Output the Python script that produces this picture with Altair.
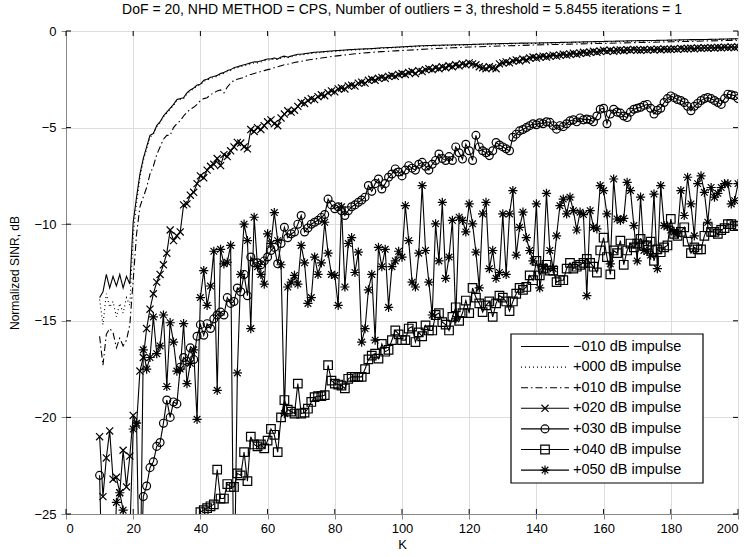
import altair as alt
import pandas as pd

FONT = "Liberation Sans"
TITLE = "DoF = 20, NHD METHOD = CPS, Number of outliers = 3, threshold = 5.8455 iterations = 1"
SERIES = ["\u2212010 dB impulse", "+000 dB impulse", "+010 dB impulse", "+020 dB impulse",
          "+030 dB impulse", "+040 dB impulse", "+050 dB impulse"]
XTICKS = [0, 20, 40, 60, 80, 100, 120, 140, 160, 180, 200]
YTICKS = [-25, -20, -15, -10, -5, 0]

# K grid of the three curves without markers
K_SMOOTH = list(range(10, 71)) + list(range(72, 101, 2)) + list(range(105, 201, 5))
# K grid of the four curves with markers
K_ALL = list(range(10, 201))

S_M010 = [
    -13.8, -13.5, -12.6, -13.3, -12.7, -13.2, -12.6, -13.3, -12.7, -13.1,
    -9.9, -8.6, -7.4, -6.6, -6.0, -5.4, -5.3, -4.9, -4.7, -4.4,
    -4.2, -4.0, -3.8, -3.55, -3.5, -3.45, -3.2, -3.05, -2.95, -2.8,
    -2.75, -2.55, -2.5, -2.4, -2.35, -2.3, -2.2, -2.15, -2.05, -2.0,
    -1.9, -1.85, -1.8, -1.75, -1.7, -1.65, -1.6, -1.6, -1.55, -1.5,
    -1.45, -1.45, -1.4, -1.45, -1.35, -1.3, -1.35, -1.3, -1.25, -1.2, -1.2,
    -1.15, -1.1, -1.08, -1.05, -1.02, -1.0, -0.97, -0.95, -0.93, -0.92, -0.9, -0.87, -0.86, -0.84, -0.82,
    -0.77, -0.74, -0.72, -0.7, -0.67, -0.65, -0.63, -0.62, -0.6, -0.58,
    -0.56, -0.54, -0.52, -0.5, -0.49, -0.47, -0.45, -0.44, -0.42, -0.4,
]
S_P000 = [
    -13.9, -15.2, -13.6, -14.3, -14.0, -14.8, -14.1, -14.6, -13.8, -14.2,
    -10.6, -8.9, -7.6, -6.7, -6.1, -5.5, -5.35, -4.95, -4.75, -4.45,
    -4.25, -4.05, -3.85, -3.6, -3.55, -3.5, -3.25, -3.1, -3.0, -2.85,
    -2.8, -2.6, -2.55, -2.45, -2.4, -2.35, -2.25, -2.2, -2.1, -2.05,
    -1.95, -1.9, -1.85, -1.8, -1.75, -1.7, -1.65, -1.65, -1.6, -1.55,
    -1.5, -1.5, -1.45, -1.48, -1.4, -1.35, -1.38, -1.34, -1.3, -1.25, -1.24,
    -1.19, -1.14, -1.11, -1.08, -1.05, -1.03, -1.0, -0.98, -0.96, -0.94, -0.92, -0.9, -0.88, -0.86, -0.85,
    -0.8, -0.76, -0.74, -0.72, -0.69, -0.67, -0.65, -0.64, -0.62, -0.6,
    -0.58, -0.56, -0.54, -0.52, -0.51, -0.49, -0.47, -0.46, -0.44, -0.42,
]
S_P010 = [
    -15.8, -17.3, -15.7, -15.4, -15.6, -16.4, -15.9, -16.3, -16.0, -15.2,
    -12.9, -10.5, -9.1, -8.6, -8.1, -7.4, -7.0, -6.4, -6.0, -5.6,
    -5.4, -5.4, -5.0, -4.8, -4.65, -4.4, -4.2, -4.05, -3.95, -3.8,
    -3.6, -3.5, -3.45, -3.3, -3.2, -3.1, -3.05, -3.2, -2.9, -2.7,
    -2.55, -2.5, -2.45, -2.4, -2.3, -2.25, -2.2, -2.15, -2.1, -2.05,
    -2.0, -1.97, -1.9, -1.85, -1.8, -1.75, -1.72, -1.68, -1.63, -1.6, -1.57,
    -1.5, -1.45, -1.4, -1.35, -1.3, -1.26, -1.22, -1.18, -1.15, -1.12, -1.09, -1.07, -1.05, -1.03, -1.01,
    -0.96, -0.91, -0.87, -0.83, -0.8, -0.77, -0.75, -0.72, -0.7, -0.68,
    -0.66, -0.64, -0.62, -0.6, -0.58, -0.56, -0.54, -0.52, -0.5, -0.48,
]
S_P020 = [
    -21.0, -24.1, -22.1, -20.7, -23.2, -23.1, -23.9, -21.7, -23.6, -22.0,
    -19.9, -20.4, -17.6, -16.9, -15.4, -14.4, -13.6, -13.0, -12.6, -12.1,
    -11.5, -10.3, -10.85, -10.6, -10.4, -9.0, -8.95, -8.5, -8.35, -7.9,
    -7.5, -7.6, -7.2, -7.0, -6.9, -6.6, -6.97, -6.4, -6.5, -6.2,
    -6.0, -5.77, -5.8, -6.0, -6.1, -5.1, -5.2, -5.0, -5.1, -4.9,
    -4.7, -4.6, -4.8, -4.9, -4.5, -4.3, -4.13, -4.2, -4.1, -3.9,
    -3.7, -3.75, -3.6, -3.5, -3.55, -3.4, -3.3, -3.35, -3.2, -3.1,
    -3.15, -3.0, -2.95, -3.0, -2.85, -2.8, -2.85, -2.7, -2.65, -2.7,
    -2.55, -2.5, -2.55, -2.45, -2.4, -2.45, -2.35, -2.3, -2.35, -2.25,
    -2.2, -2.25, -2.15, -2.1, -2.2, -2.05, -2.1, -2.0, -1.95, -2.0,
    -1.9, -1.95, -1.85, -1.9, -1.8, -1.85, -1.75, -1.8, -1.7, -1.75,
    -1.65, -1.7, -1.75, -1.85, -1.9, -1.95, -1.85, -1.9, -1.95, -1.7,
    -1.65, -1.6, -1.65, -1.55, -1.5, -1.55, -1.45, -1.5, -1.4, -1.35,
    -1.4, -1.35, -1.3, -1.35, -1.3, -1.25, -1.3, -1.25, -1.2, -1.25,
    -1.2, -1.15, -1.2, -1.15, -1.1, -1.15, -1.1, -1.05, -1.1, -1.05,
    -1.0, -1.05, -1.0, -1.05, -1.0, -0.98, -1.02, -0.97, -1.0, -0.95,
    -0.98, -1.0, -0.96, -0.99, -0.95, -0.98, -0.94, -0.97, -0.93, -0.96,
    -0.95, -0.92, -0.95, -0.9, -0.93, -0.91, -0.89, -0.92, -0.88, -0.9,
    -0.87, -0.89, -0.86, -0.88, -0.85, -0.87, -0.84, -0.86, -0.83, -0.85,
    -0.82,
]
S_P030 = [
    -23.0, -30, -30, -30, -30, -30, -30, -30, -30, -30,
    -30, -30, -30, -24.1, -23.55, -22.6, -22.3, -21.5, -21.3, -20.3,
    -19.1, -20.0, -19.2, -19.3, -17.4, -16.9, -17.1, -16.4, -17.0, -15.8,
    -15.2, -15.75, -15.15, -15.4, -14.9, -14.7, -14.55, -14.7, -13.8, -14.1,
    -14.0, -13.3, -13.5, -12.6, -13.7, -11.7, -12.0, -12.0, -12.1, -11.9,
    -11.7, -11.36, -11.2, -12.05, -11.0, -10.16, -10.7, -10.5, -10.4, -10.0,
    -9.55, -10.4, -10.2, -10.0, -9.9, -9.8, -9.65, -9.5, -8.7, -9.0,
    -9.2, -9.1, -9.3, -9.55, -9.3, -9.1, -9.0, -8.87, -8.75, -8.6,
    -8.0, -8.3, -7.9, -7.66, -8.18, -7.9, -7.57, -7.4, -7.14, -7.3,
    -7.5, -7.2, -6.97, -7.1, -7.2, -6.9, -6.8, -7.0, -7.2, -6.9,
    -6.7, -6.37, -6.6, -6.7, -6.5, -6.7, -6.0, -6.3, -6.63, -5.86,
    -6.2, -6.7, -5.4, -6.0, -6.2, -6.3, -6.45, -6.2, -5.77, -5.9,
    -6.0, -6.1, -6.2, -5.5, -5.34, -5.17, -5.1, -5.0, -4.9, -4.8,
    -4.85, -4.75, -4.8, -4.7, -4.73, -4.9, -5.08, -4.9, -4.95, -4.8,
    -4.65, -4.6, -4.7, -4.5, -4.6, -4.56, -4.6, -4.7, -4.4, -4.05,
    -4.0, -4.8, -4.3, -4.05, -4.2, -4.25, -4.4, -4.48, -4.2, -4.05,
    -4.0, -3.95, -3.85, -3.8, -4.0, -4.3, -4.1, -4.0, -3.7, -3.5,
    -3.36, -3.45, -3.55, -3.6, -3.7, -3.9, -4.13, -3.9, -3.75, -3.6,
    -3.5, -3.44, -3.5, -3.6, -3.7, -3.8, -3.5, -3.27, -3.3, -3.35,
    -3.5,
]
S_P040 = [
    -30, -30, -30, -30, -30, -30, -30, -30, -30, -30,
    -30, -30, -30, -30, -30, -30, -30, -30, -30, -30,
    -30, -30, -30, -30, -30, -30, -30, -30, -30, -30,
    -24.9, -24.8, -24.7, -24.6, -24.5, -22.7, -24.2, -24.2, -23.45, -23.6,
    -23.6, -22.9, -23.0, -21.8, -23.3, -21.0, -21.4, -21.5, -21.4, -21.6,
    -21.2, -20.6, -20.9, -21.8, -20.0, -19.1, -19.6, -19.7, -19.8, -18.25,
    -19.8, -19.75, -19.55, -19.2, -18.95, -18.9, -18.9, -18.85, -17.3, -18.1,
    -18.25, -18.3, -18.35, -18.5, -18.0, -17.9, -17.9, -17.9, -17.9, -17.5,
    -17.0, -16.8, -16.7, -16.96, -16.2, -16.6, -16.5, -16.0, -15.5, -15.7,
    -16.0, -16.0, -15.4, -15.3, -16.1, -15.6, -15.8, -15.24, -15.5, -15.5,
    -14.7, -14.6, -15.07, -15.2, -15.5, -14.8, -14.3, -15.0, -14.6, -13.95,
    -14.6, -13.3, -13.8, -14.1, -14.55, -14.2, -14.0, -14.8, -14.1, -13.7,
    -13.8, -14.0, -14.5, -14.0, -13.6, -13.3, -13.4, -13.25, -12.65, -12.9,
    -11.9, -12.65, -12.3, -12.1, -12.4, -12.4, -13.0, -12.9, -12.9, -12.3,
    -12.0, -12.3, -12.2, -12.1, -12.0, -11.8, -12.0, -12.2, -12.5, -11.36,
    -10.7, -11.7, -12.6, -11.36, -11.5, -10.85, -12.1, -11.36, -11.0, -11.2,
    -11.0, -10.76, -11.1, -11.1, -10.9, -11.9, -11.3, -11.45, -11.2, -11.1,
    -9.73, -10.5, -10.6, -10.4, -10.16, -10.9, -11.5, -11.2, -11.3, -11.3,
    -10.6, -10.16, -10.4, -10.4, -10.5, -10.3, -10.2, -10.0, -10.0, -10.1,
    -10.07,
]
S_P050 = [
    -30, -30, -30, -30, -30, -24.4, -23.9, -24.8, -27, -26,
    -20.6, -20.3, -30, -16.5, -17.5, -16.9, -14.8, -16.7, -16.3, -14.7,
    -18.4, -15.1, -16.1, -17.6, -17.5, -15.15, -18.25, -17.2, -16.5, -20.1,
    -13.8, -12.4, -14.2, -13.2, -11.4, -18.6, -11.3, -12.05, -11.97, -11.1,
    -30, -17.7, -12.6, -10.0, -10.85, -15.4, -9.64, -12.2, -12.6, -13.1,
    -10.5, -11.0, -9.4, -10.85, -12.1, -19.8, -13.25, -13.0, -12.65, -13.1,
    -11.1, -12.0, -14.1, -13.8, -11.7, -12.6, -12.0, -9.9, -11.5, -12.6,
    -12.65, -14.2, -9.1, -13.25, -11.0, -10.7, -12.5, -11.45, -16.1, -15.4,
    -13.4, -12.6, -16.0, -11.2, -12.2, -11.3, -14.3, -12.2, -11.9, -11.4,
    -11.7, -9.04, -10.85, -13.0, -13.25, -11.5, -8.0, -11.36, -13.0, -14.7,
    -9.98, -11.9, -8.87, -12.8, -11.7, -9.8, -14.9, -9.64, -9.8, -10.4,
    -8.95, -9.98, -11.45, -13.3, -9.47, -8.87, -12.3, -11.36, -12.8, -12.5,
    -9.47, -12.6, -9.47, -8.26, -11.6, -10.16, -9.38, -10.7, -11.36, -11.9,
    -8.95, -13.3, -12.2, -8.4, -11.36, -12.3, -10.6, -9.04, -8.7, -9.47,
    -8.6, -9.3, -10.3, -9.38, -9.5, -13.7, -9.3, -10.16, -10.24, -8.0,
    -8.26, -9.47, -12.05, -7.66, -9.73, -9.8, -9.7, -7.83, -8.26, -10.07,
    -11.9, -8.6, -11.36, -11.4, -11.6, -8.44, -12.3, -8.0, -10.07, -10.1,
    -10.3, -10.4, -10.5, -8.26, -9.55, -7.57, -8.95, -10.6, -7.9, -7.5,
    -8.35, -9.9, -8.1, -8.6, -8.4, -8.1, -7.9, -7.9, -8.95, -8.78,
    -7.9,
]

rows = []
for name, ks, vals in [
    (SERIES[0], K_SMOOTH, S_M010), (SERIES[1], K_SMOOTH, S_P000), (SERIES[2], K_SMOOTH, S_P010),
    (SERIES[3], K_ALL, S_P020), (SERIES[4], K_ALL, S_P030), (SERIES[5], K_ALL, S_P040),
    (SERIES[6], K_ALL, S_P050),
]:
    for k, v in zip(ks, vals):
        rows.append({"K": k, "value": v, "series": name})
df = pd.DataFrame(rows)
marked = df[df["series"].isin(SERIES[3:])]

W, H = 672, 483
X_PATH = "M-1,-1L1,1M-1,1L1,-1"
STAR_PATH = "M0,-1L0,1M-1,0L1,0M-0.72,-0.72L0.72,0.72M-0.72,0.72L0.72,-0.72"

dash_scale = alt.Scale(domain=SERIES, range=[[1, 0], [1, 3], [7, 3, 1.5, 3], [1, 0], [1, 0], [1, 0], [1, 0]])
shape_scale = alt.Scale(domain=SERIES[3:], range=[X_PATH, "circle", "square", STAR_PATH])
size_scale = alt.Scale(domain=SERIES[3:], range=[50, 85, 56, 85])

xscale = alt.Scale(domain=[0, 200], nice=False, zero=False)
yscale = alt.Scale(domain=[-25, 0], nice=False, zero=False)

x_enc = alt.X("K:Q", scale=xscale,
              axis=alt.Axis(values=XTICKS, title="K", labelPadding=3, titlePadding=3,
                            labelFontSize=13, titleFontSize=13, titleFontWeight=400))
y_enc = alt.Y("value:Q", scale=yscale,
              axis=alt.Axis(values=YTICKS, title="Normalized SINR, dB", labelPadding=5,
                            titlePadding=12, labelFontSize=13, titleFontSize=12, titleFontWeight=400))

lines = alt.Chart(df).mark_line(color="black", strokeWidth=1.1, clip=True).encode(
    x=x_enc, y=y_enc,
    strokeDash=alt.StrokeDash("series:N", scale=dash_scale, legend=None),
    detail="series:N",
)
points = alt.Chart(marked).mark_point(filled=False, color="black", strokeWidth=1.2, opacity=1, clip=True).encode(
    x=alt.X("K:Q", scale=xscale), y=alt.Y("value:Q", scale=yscale),
    shape=alt.Shape("series:N", scale=shape_scale, legend=None),
    size=alt.Size("series:N", scale=size_scale, legend=None),
)

xt = pd.DataFrame({"K": XTICKS})
yt = pd.DataFrame({"value": YTICKS})
tick_b = alt.Chart(xt).mark_rule(color="black", strokeWidth=1).encode(
    x=alt.X("K:Q", scale=xscale), y=alt.value(H), y2=alt.value(H - 5))
tick_t = alt.Chart(xt).mark_rule(color="black", strokeWidth=1).encode(
    x=alt.X("K:Q", scale=xscale), y=alt.value(0), y2=alt.value(5))
tick_l = alt.Chart(yt).mark_rule(color="black", strokeWidth=1).encode(
    y=alt.Y("value:Q", scale=yscale), x=alt.value(0), x2=alt.value(5))
tick_r = alt.Chart(yt).mark_rule(color="black", strokeWidth=1).encode(
    y=alt.Y("value:Q", scale=yscale), x=alt.value(W), x2=alt.value(W - 5))

# legend (pixel positions inside the plot area)
leg = pd.DataFrame({"series": SERIES, "row": list(range(len(SERIES)))})
leg["ly"] = 315.5 + 20.6 * leg["row"]
leg["x1"] = 455
leg["x2"] = 503
leg["xm"] = 479
leg["tx"] = 507
leg_box = alt.Chart(pd.DataFrame({"a": [0]})).mark_rect(fill="white", stroke="black", strokeWidth=1.2).encode(
    x=alt.value(445), x2=alt.value(637), y=alt.value(303), y2=alt.value(452))
leg_lines = alt.Chart(leg).mark_rule(color="black", strokeWidth=1.1).encode(
    x=alt.X("x1:Q", scale=None, axis=None), x2="x2:Q",
    y=alt.Y("ly:Q", scale=None, axis=None),
    strokeDash=alt.StrokeDash("series:N", scale=dash_scale, legend=None),
)
leg_pts = alt.Chart(leg[leg["row"] >= 3]).mark_point(filled=False, color="black", strokeWidth=1.2, opacity=1).encode(
    x=alt.X("xm:Q", scale=None, axis=None), y=alt.Y("ly:Q", scale=None, axis=None),
    shape=alt.Shape("series:N", scale=shape_scale, legend=None),
    size=alt.Size("series:N", scale=size_scale, legend=None),
)
leg_text = alt.Chart(leg).mark_text(align="left", baseline="middle", fontSize=14.5, font=FONT, color="black").encode(
    x=alt.X("tx:Q", scale=None, axis=None), y=alt.Y("ly:Q", scale=None, axis=None), text="series:N")

chart = alt.layer(lines, points, tick_b, tick_t, tick_l, tick_r, leg_box, leg_lines, leg_pts, leg_text).properties(
    width=W, height=H,
    title=alt.TitleParams(TITLE, fontSize=14, fontWeight=400, font=FONT, anchor="middle",
                          frame="group", offset=8, color="black"),
    autosize=alt.AutoSizeParams(type="none"),
    padding={"left": 66, "top": 31, "right": 13, "bottom": 43},
).configure_view(stroke="black", strokeWidth=1).configure_axis(
    grid=True, gridColor="#000", gridDash=[1, 3], gridOpacity=0.6, gridWidth=0.8,
    ticks=False, domain=False, labelFont=FONT, titleFont=FONT, labelColor="black",
    titleColor="black", titleFontWeight=400,
).configure(background="white")

chart.save("out.html", embed_options={"renderer": "svg", "actions": False})
